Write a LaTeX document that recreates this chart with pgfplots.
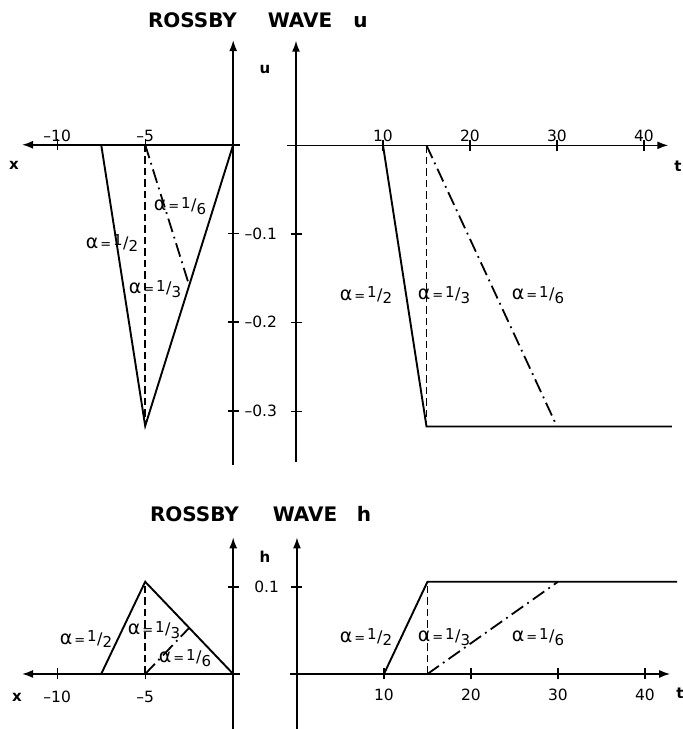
\documentclass[border=0pt]{standalone}
\usepackage{pgfplots}
\pgfplotsset{compat=1.18}
\usepackage{graphicx}
\usepackage{fontspec}
\setmainfont{DejaVu Sans}
\usetikzlibrary{arrows.meta}

% alpha = n/m labels with a slanted fraction
\newcommand\fr[2]{\raisebox{0.45ex}{\fontsize{15}{15}\selectfont#1}\kern0.3pt{\fontsize{16}{16}\selectfont/}\kern0.3pt\raisebox{-0.6ex}{\fontsize{15}{15}\selectfont#2}}
\newcommand\alab[2]{{\fontsize{19}{19}\selectfont α}\kern2pt{\fontsize{13}{13}\selectfont=}\kern2pt\fr{#1}{#2}}
\newcommand\ttl[1]{\fontsize{20}{20}\selectfont\bfseries #1}
\newcommand\tfont{\fontsize{15.5}{15.5}\selectfont}

\pgfplotsset{
  panel/.style={
    scale only axis, axis lines=middle, enlargelimits=false, clip=false,
    tick align=center, major tick length=11pt,
    every tick/.style={black, line width=1.4pt},
    axis line style={black, line width=1.6pt},
    /pgf/number format/assume math mode=true,
    xlabel={}, ylabel={},
  },
  leftarrow/.style={
    every inner x axis line/.append style={{Latex[length=11pt,width=8pt]}-},
    every inner y axis line/.append style={-{Latex[length=11pt,width=8pt]}},
  },
  rightarrow/.style={
    every inner x axis line/.append style={-{Latex[length=11pt,width=8pt]}},
    every inner y axis line/.append style={-{Latex[length=11pt,width=8pt]}},
  },
  sol/.style={black, line width=1.9pt, no markers},
  dsh/.style={black, line width=1.8pt, no markers, dash pattern=on 7.5pt off 4pt},
  dd/.style={black, line width=1.8pt, no markers, dash pattern=on 14pt off 5pt on 1.8pt off 5pt},
}

\begin{document}
\begin{tikzpicture}
\useasboundingbox (0,0) rectangle (683pt,729pt);

% ---------- u as a function of x ----------
\begin{axis}[panel, leftarrow,
  at={(22pt,264pt)}, anchor=south west,
  width=218.24pt, height=424.9pt,
  xmin=-12, xmax=0.4, ymin=-0.361, ymax=0.118,
  xtick={-10,-5}, xticklabels={--10,--5},
  xticklabel style={font=\tfont, anchor=center, yshift=14pt},
  ytick={-0.3,-0.2,-0.1}, yticklabels={--0.3,--0.2,--0.1},
  yticklabel style={font=\tfont, anchor=center, xshift=33pt},
]
\addplot[sol] coordinates {(-7.5,0) (-5,-0.317) (0,0)};
\addplot[dsh] coordinates {(-5,0) (-5,-0.317)};
\addplot[dd] coordinates {(-5,0) (-2.5,-0.1585)};
\end{axis}

% ---------- u as a function of t ----------
\begin{axis}[panel, rightarrow,
  at={(287.3pt,267pt)}, anchor=south west,
  width=381.06pt, height=421.3pt,
  xmin=-1, xmax=42.8, ymin=-0.357, ymax=0.118,
  xtick={10,20,30,40}, xticklabels={10,20,30,40},
  xticklabel style={font=\tfont, anchor=center, yshift=15pt},
  ytick={-0.3,-0.2,-0.1}, yticklabels={\mbox{},\mbox{},\mbox{}},
]
\addplot[sol] coordinates {(10,0) (15,-0.317) (43.2,-0.317)};
\addplot[dsh] coordinates {(15,0) (15,-0.317)};
\addplot[dd] coordinates {(15,0) (30,-0.317)};
\end{axis}

% ---------- h as a function of x ----------
\begin{axis}[panel, leftarrow,
  at={(22pt,0.4pt)}, anchor=south west,
  width=218.24pt, height=191.2pt,
  xmin=-12, xmax=0.4, ymin=-0.0628, ymax=0.157,
  xtick={-10,-5}, xticklabels={--10,--5},
  xticklabel style={font=\tfont, anchor=center, yshift=-17pt},
  ytick={0.1}, yticklabels={0.1},
  yticklabel style={font=\tfont, anchor=center, xshift=39pt},
]
\addplot[sol] coordinates {(-7.5,0) (-5,0.106) (0,0)};
\addplot[dsh] coordinates {(-5,0) (-5,0.106)};
\addplot[dd] coordinates {(-5,0) (-2.5,0.053)};
\end{axis}

% ---------- h as a function of t ----------
\begin{axis}[panel, rightarrow,
  at={(290pt,0.4pt)}, anchor=south west,
  width=380.2pt, height=191.2pt,
  xmin=-0.8, xmax=42.9, ymin=-0.0628, ymax=0.157,
  xtick={10,20,30,40}, xticklabels={10,20,30,40},
  xticklabel style={font=\tfont, anchor=center, yshift=-15pt},
  ytick={0.1}, yticklabels={\mbox{}},
]
\addplot[sol] coordinates {(10,0) (15,0.106) (43.7,0.106)};
\addplot[dsh] coordinates {(15,0) (15,0.106)};
\addplot[dd] coordinates {(15,0) (30,0.106)};
\end{axis}

% titles
\node[anchor=base] at (192.5pt,701pt) {\ttl{ROSSBY}};
\node[anchor=base] at (300pt,701pt) {\ttl{WAVE}};
\node[anchor=base] at (360.5pt,701pt) {\ttl{u}};
\node[anchor=base] at (194.5pt,207pt) {\ttl{ROSSBY}};
\node[anchor=base] at (305pt,207pt) {\ttl{WAVE}};
\node[anchor=base] at (364pt,207pt) {\ttl{h}};

% axis letters
\begin{scope}[every node/.style={font=\fontsize{15}{15}\selectfont\bfseries}]
\node at (14pt,564pt) {x};
\node at (265pt,659pt) {u};
\node at (678pt,563pt) {t};
\node at (17pt,32pt) {x};
\node at (265pt,172pt) {h};
\node at (680pt,36pt) {t};
\end{scope}

% curve labels
\node at (112pt,486pt) {\alab{1}{2}};
\node at (180pt,523pt) {\alab{1}{6}};
\node at (155pt,440pt) {\alab{1}{3}};
\node at (366pt,434pt) {\alab{1}{2}};
\node at (444pt,434pt) {\alab{1}{3}};
\node at (538pt,434pt) {\alab{1}{6}};
\node at (86pt,90pt) {\alab{1}{2}};
\node at (154pt,99pt) {\alab{1}{3}};
\node at (185pt,71pt) {\alab{1}{6}};
\node at (366pt,92pt) {\alab{1}{2}};
\node at (444pt,92pt) {\alab{1}{3}};
\node at (538pt,92pt) {\alab{1}{6}};
\end{tikzpicture}
\end{document}
